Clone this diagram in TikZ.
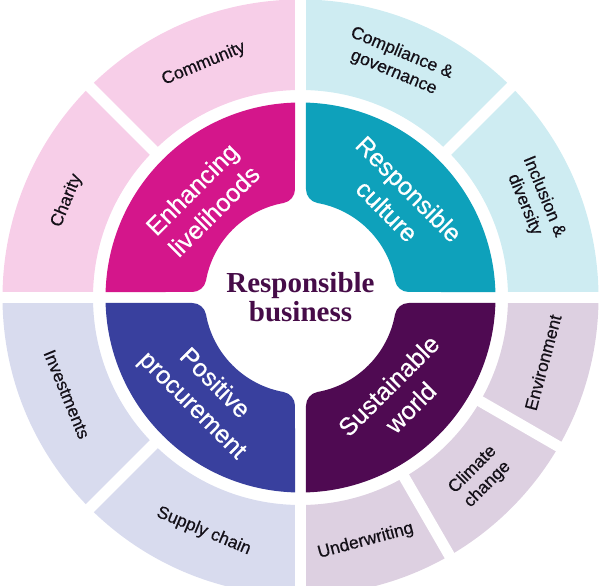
\documentclass[tikz,border=0pt]{standalone}
\usepackage{fontspec}
\setmainfont{Liberation Sans}[FakeBold=0.5]
\newfontfamily\hubfont{Liberation Serif}
\usepackage{xcolor}
\definecolor{livelihood}{RGB}{212,22,139}
\definecolor{culturecol}{RGB}{14,161,187}
\definecolor{procurecol}{RGB}{57,64,158}
\definecolor{worldcol}{RGB}{79,10,82}
\definecolor{livelihood_lt}{RGB}{247,206,232}
\definecolor{culture_lt}{RGB}{206,236,242}
\definecolor{procure_lt}{RGB}{216,219,238}
\definecolor{world_lt}{RGB}{221,208,225}
\definecolor{hubtext}{RGB}{70,12,72}
\definecolor{labeltext}{RGB}{20,16,24}

\tikzset{
  gap/.style={white, line width=11pt},
  ring label/.style={text=labeltext, align=center, font=\fontsize{17.5}{21}\selectfont},
  petal label/.style={text=white, align=center, font=\fontsize{25}{31}\selectfont},
  hub label/.style={text=hubtext, anchor=base, font=\hubfont\bfseries\fontsize{29}{29}\selectfont}
}

\begin{document}
\begin{tikzpicture}[x=1pt, y=1pt]
  \useasboundingbox (-300.5,-288.5) rectangle (307.5,297.5);
  \clip (-300.5,-288.5) rectangle (307.5,297.5);

  % outer ring
  \foreach \a/\col in {90/livelihood_lt, 0/culture_lt, 180/procure_lt, 270/world_lt}
    \fill[\col] (\a:207.5) arc[start angle=\a, end angle=\a+90, radius=207.5]
      -- (\a+90:298) arc[start angle=\a+90, end angle=\a, radius=298] -- cycle;
  \draw[gap] (-310,0) -- (310,0);
  \draw[gap] (0,-310) -- (0,310);
  \foreach \a in {45,135,225,300,330}
    \draw[gap] (\a:200) -- (\a:305);

  % inner ring, corners rounded towards the hub
  \pgfmathsetmacro\ga{asin(5.5/195)}
  \pgfmathsetmacro\cx{sqrt(110^2-19.5^2)}
  \pgfmathsetmacro\ph{atan(19.5/\cx)}
  \foreach \rot/\col in {0/livelihood, -90/culturecol, 90/procurecol, 180/worldcol}
  {
    \begin{scope}[rotate=\rot]
      \fill[\col] (90+\ga:195) arc[start angle=90+\ga, end angle=180-\ga, radius=195]
        -- (-\cx,5.5) arc[start angle=-90, end angle=-\ph, radius=14]
        arc[start angle=180-\ph, end angle=90+\ph, radius=96]
        arc[start angle=-90+\ph, end angle=0, radius=14] -- cycle;
    \end{scope}
  }

  % labels
  \node[petal label, rotate=45] (livelihoods) at (135:138) {Enhancing\\livelihoods};
  \node[petal label, rotate=-45] (culture) at (45:138) {Responsible\\culture};
  \node[petal label, rotate=-45] (procurement) at (225:138) {Positive\\procurement};
  \node[petal label, rotate=45] (world) at (315:140) {Sustainable\\world};

  \node[ring label, rotate=22.5] (community) at (112.5:253) {Community};
  \node[ring label, rotate=67.5] (charity) at (157.5:253) {Charity};
  \node[ring label, rotate=-22.5] (compliance) at (67.5:254) {Compliance \&\\governance};
  \node[ring label, rotate=-67.5] (inclusion) at (22.5:253) {Inclusion \&\\diversity};
  \node[ring label, rotate=-67.5] (investments) at (202.5:253) {Investments};
  \node[ring label, rotate=-22.5] (supply) at (247.5:253) {Supply chain};
  \node[ring label, rotate=15] (underwriting) at (285:252) {Underwriting};
  \node[ring label, rotate=45] (climate) at (315:254) {Climate\\change};
  \node[ring label, rotate=75] (environment) at (345:251) {Environment};

  \node[hub label] (hub top) at (0,4.8) {Responsible};
  \node[hub label] (hub bottom) at (0,-24) {business};
\end{tikzpicture}
\end{document}
